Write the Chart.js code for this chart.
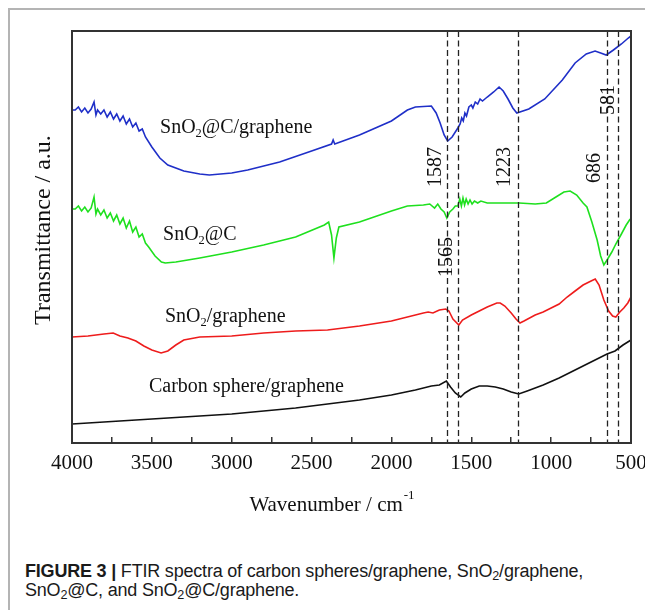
<!DOCTYPE html>
<html><head><meta charset="utf-8">
<script src="https://cdn.jsdelivr.net/npm/chart.js@4.4.1/dist/chart.umd.min.js"></script>
<style>
html,body{margin:0;padding:0;background:#fff;}
#wrap{position:relative;width:645px;height:610px;overflow:hidden;}
#frame{position:absolute;left:8px;top:8px;width:700px;height:700px;border-top:2px solid #b4b4b4;border-left:2px solid #b4b4b4;}
canvas{position:absolute;left:0;top:0;}
#cap{position:absolute;left:25px;top:562px;font-family:"Liberation Sans",Arial,sans-serif;font-size:18px;line-height:19px;color:#1a1a1a;white-space:nowrap;letter-spacing:-0.2px;}
#cap sub{font-size:70%;line-height:0;vertical-align:-0.25em;}
</style></head><body>
<div id="wrap"><div id="frame"></div><canvas id="c" width="645" height="540"></canvas>
<div id="cap"><b>FIGURE 3 |</b> FTIR spectra of carbon spheres/graphene, SnO<sub>2</sub>/graphene,<br>SnO<sub>2</sub>@C, and SnO<sub>2</sub>@C/graphene.</div></div>
<script>
// ---- data (wavenumber in cm^-1, transmittance in arbitrary units) ----
const seriesNames = ['SnO\u2082@C/graphene', 'SnO\u2082@C', 'SnO\u2082/graphene', 'Carbon sphere/graphene'];

const blueWavenumber = [4000,3980,3960,3940,3920,3900,3880,3862,3850,3840,3820,3800,3780,3760,3740,3720,3700,3680,3660,3640,3620,3600,3580,3560,3540,3500,3450,3400,3300,3200,3140,3000,2900,2700,2500,2375,2365,2355,2200,2000,1900,1850,1750,1720,1695,1670,1648,1620,1584,1570,1560,1550,1540,1530,1515,1500,1490,1475,1460,1445,1430,1400,1360,1326,1300,1270,1240,1215,1140,1040,930,850,780,725,690,655,610,560,517,500];
const blueValues = [333,333,336,331,335,330,334,341,328,333,329,333,326,331,324,329,322,327,319,324,316,320,312,314,306,296,285,278,272,269,268,270,273,281,292,299,303,299,308,322,333,336,337,330,320,308,302,306,315,319,325,322,330,327,336,338,335,341,339,344,342,346,351,356,352,344,335,330,334,344,363,380,389,392,390,388,393,399,405,407];

const greenWavenumber = [4000,3980,3960,3940,3920,3900,3880,3862,3850,3840,3820,3800,3780,3760,3740,3720,3700,3680,3660,3640,3620,3600,3580,3560,3540,3520,3480,3440,3416,3350,3200,3000,2800,2600,2420,2393,2375,2360,2345,2329,2200,2000,1900,1800,1760,1730,1710,1690,1670,1653,1635,1615,1600,1584,1572,1562,1552,1542,1532,1520,1508,1495,1480,1460,1440,1400,1300,1200,1100,1030,970,920,881,840,800,776,745,712,690,670,650,620,595,560,530,505];
const greenValues = [234,234,237,232,236,231,235,246,229,234,228,233,225,230,222,228,219,225,215,222,211,216,206,209,200,196,187,181,180,181,185,191,198,206,218,221,208,185,205,216,221,232,237,238,239,235,239,234,231,225,231,234,237,237,244,237,245,238,244,239,243,239,242,240,242,240,240,240,239,240,246,251,252,248,240,236,221,203,187,178,183,191,199,209,218,224];

const redWavenumber = [4000,3900,3800,3742,3700,3650,3600,3550,3500,3442,3400,3350,3300,3200,3000,2800,2600,2400,2200,2000,1900,1800,1770,1740,1700,1660,1640,1615,1578,1555,1500,1450,1400,1340,1319,1290,1250,1220,1195,1170,1100,1050,1000,950,900,850,800,750,724,700,670,640,615,595,570,545,520,500];
const redValues = [106,107,109,110,107,105,102,97,93,90,92,98,103,106,107,110,112,113,117,122,126,130,131,130,133,134,132,124,118,123,128,132,136,140,140,137,130,124,120,122,128,131,135,139,146,152,158,162,164,158,143,132,127,126,131,135,140,146];

const blackWavenumber = [4000,3800,3600,3400,3200,3000,2800,2600,2400,2200,2000,1850,1750,1700,1656,1630,1600,1566,1540,1500,1450,1400,1350,1300,1250,1203,1150,1050,950,850,750,650,600,550,500];
const blackValues = [19,21,23,25,27,29,32,35,39,43,48,53,57,58,62,56,50,46,50,54,57,57,56,54,51,49,52,58,65,73,81,89,92,98,103];

const xTickValues = [4000,3750,3500,3250,3000,2750,2500,2250,2000,1750,1500,1250,1000,750,500];
const markerWavenumbers = [1653,1585,1210,650,581];
const peakLabels = ['1587','1223','686','581','1565'];
const peakLabelAt = [[1722,276],[1292,276],[729,275],[637,343],[1655,186]];
const seriesLabelAt = [[3449,315],[3430,208],[3418,126],[3518,56]];

const seriesColors = ['#1f2fc8','#1ee01e','#ee1c1c','#111111'];

function pts(xs, ys){ return xs.map((x,i)=>({x:x, y:ys[i]})); }

const SERIF = '"Liberation Serif", "Times New Roman", serif';

function drawRich(ctx, text, x, y, size, align){
  const parts = [];
  for (const ch of text){
    if (ch === '\u2082') parts.push({t:'2', sub:true});
    else if (parts.length && !parts[parts.length-1].sub) parts[parts.length-1].t += ch;
    else parts.push({t:ch, sub:false});
  }
  let w = 0;
  for (const p of parts){ ctx.font = (p.sub ? size*0.62 : size) + 'px ' + SERIF; w += ctx.measureText(p.t).width; }
  let cx = align === 'center' ? x - w/2 : x;
  ctx.textAlign = 'left';
  for (const p of parts){
    ctx.font = (p.sub ? size*0.62 : size) + 'px ' + SERIF;
    ctx.fillText(p.t, cx, p.sub ? y + size*0.28 : y);
    cx += ctx.measureText(p.t).width;
  }
}

const annot = {
  id: 'annot',
  afterDatasetsDraw(chart){
    const {ctx, chartArea: a, scales: {x, y}} = chart;
    ctx.save();
    ctx.strokeStyle = '#222'; ctx.lineWidth = 1.3; ctx.setLineDash([6,3.5]);
    markerWavenumbers.forEach(w => {
      const px = Math.round(x.getPixelForValue(w)) + 0.5;
      ctx.beginPath(); ctx.moveTo(px, a.top); ctx.lineTo(px, a.bottom); ctx.stroke();
    });
    ctx.setLineDash([]);
    ctx.strokeStyle = '#333'; ctx.lineWidth = 2;
    ctx.strokeRect(a.left, a.top, a.right - a.left, a.bottom - a.top);
    ctx.fillStyle = '#111'; ctx.textBaseline = 'middle';
    seriesNames.forEach((n,i) => {
      drawRich(ctx, n, x.getPixelForValue(seriesLabelAt[i][0]), y.getPixelForValue(seriesLabelAt[i][1]), 20, 'left');
    });
    ctx.font = '20px ' + SERIF; ctx.textAlign = 'center';
    peakLabels.forEach((t,i) => {
      ctx.save();
      ctx.translate(x.getPixelForValue(peakLabelAt[i][0]), y.getPixelForValue(peakLabelAt[i][1]));
      ctx.rotate(-Math.PI/2);
      ctx.fillText(t, 0, 0);
      ctx.restore();
    });
    ctx.save();
    ctx.font = '24px ' + SERIF; ctx.textAlign = 'center';
    ctx.translate(a.left - 28, (a.top + a.bottom)/2 - 7);
    ctx.rotate(-Math.PI/2);
    ctx.fillText('Transmittance / a.u.', 0, 0);
    ctx.restore();
    const main = 'Wavenumber / cm';
    ctx.font = '21px ' + SERIF; const mw = ctx.measureText(main).width;
    ctx.font = '13px ' + SERIF; const sw = ctx.measureText('-1').width;
    const cx = (a.left + a.right)/2 - 20, cy = a.bottom + 62;
    const sx = cx - (mw + sw)/2;
    ctx.textAlign = 'left';
    ctx.font = '21px ' + SERIF; ctx.fillText(main, sx, cy);
    ctx.font = '13px ' + SERIF; ctx.fillText('-1', sx + mw + 1, cy - 9);
    ctx.restore();
  }
};

new Chart(document.getElementById('c'), {
  type: 'line',
  data: {
    datasets: [
      {label: seriesNames[0], data: pts(blueWavenumber, blueValues), borderColor: seriesColors[0]},
      {label: seriesNames[1], data: pts(greenWavenumber, greenValues), borderColor: seriesColors[1]},
      {label: seriesNames[2], data: pts(redWavenumber, redValues), borderColor: seriesColors[2]},
      {label: seriesNames[3], data: pts(blackWavenumber, blackValues), borderColor: seriesColors[3]}
    ]
  },
  options: {
    responsive: false, animation: false,
    elements: {point: {radius: 0}, line: {borderWidth: 1.6, tension: 0, fill: false}},
    layout: {padding: {left: 0, right: 14, top: 31, bottom: 0}},
    plugins: {legend: {display: false}, tooltip: {enabled: false}},
    scales: {
      x: {
        type: 'linear', reverse: true, min: 500, max: 4000,
        afterBuildTicks: s => { s.ticks = xTickValues.map(v => ({value: v})); },
        afterFit: s => { s.height = 97; s.paddingLeft = 0; s.paddingRight = 0; },
        ticks: {autoSkip: false, maxRotation: 0, padding: 14, color: '#111',
          font: {family: SERIF, size: 21},
          callback: v => (v % 500 === 0 ? String(v) : '')},
        grid: {display: true, drawOnChartArea: false, drawTicks: true, tickLength: -6, color: '#333', lineWidth: 1.5},
        border: {display: false}
      },
      y: {
        min: 0, max: 412,
        afterFit: s => { s.width = 72; },
        ticks: {display: false},
        grid: {display: false, drawTicks: false},
        border: {display: false}
      }
    }
  },
  plugins: [annot]
});
</script>
</body></html>
